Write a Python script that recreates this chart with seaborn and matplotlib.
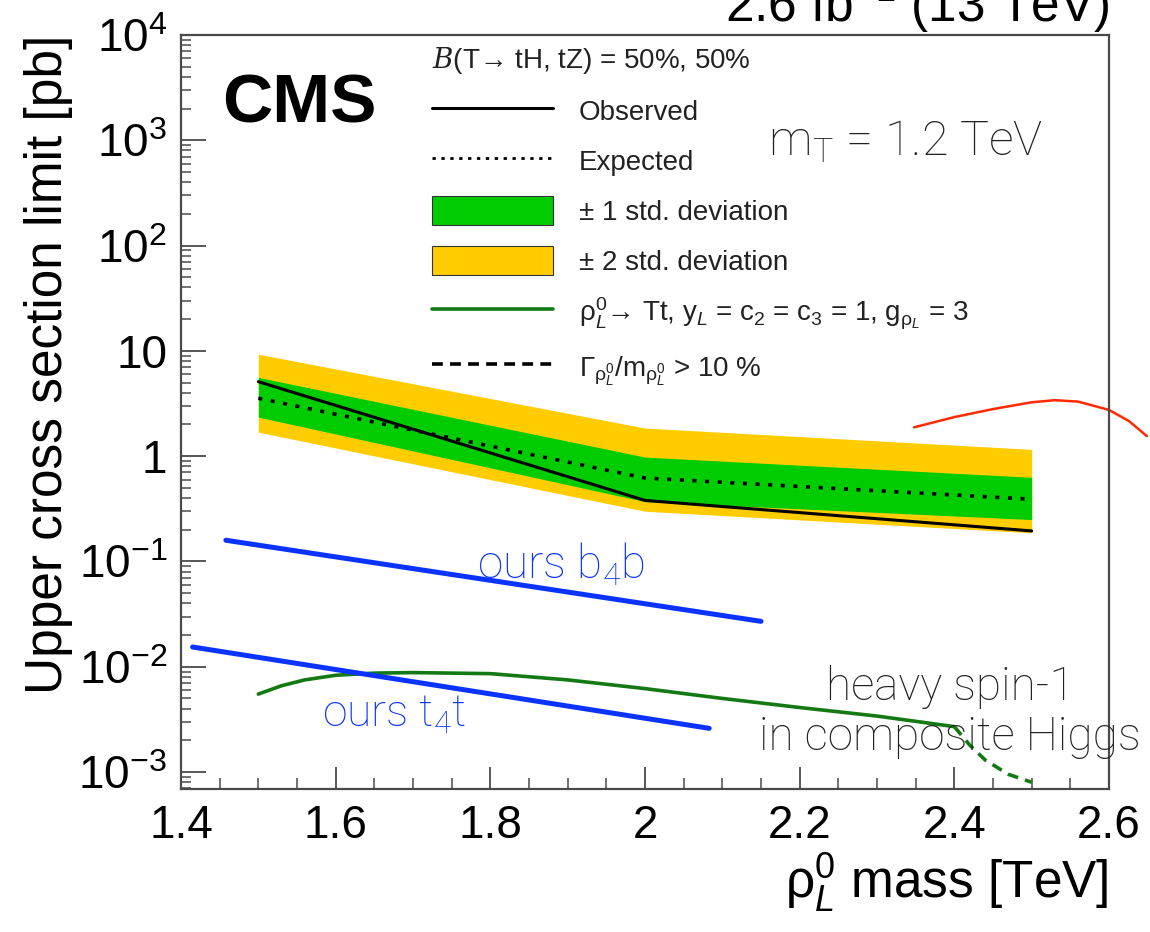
import matplotlib
matplotlib.use("Agg")
import matplotlib.pyplot as plt
import seaborn as sns
import pandas as pd
from matplotlib.patches import Patch
from matplotlib.lines import Line2D
from matplotlib.ticker import MultipleLocator, LogLocator, NullFormatter

# ---- limit results (pb) vs rho mass (TeV) ----
mass = [1.5, 2.0, 2.5]
observed = [5.1, 0.38, 0.195]
expected = [3.55, 0.62, 0.39]
band1_lo = [2.35, 0.37, 0.25]
band1_hi = [5.6, 0.98, 0.63]
band2_lo = [1.69, 0.30, 0.187]
band2_hi = [9.3, 1.85, 1.16]

# ---- heavy spin-1 model prediction ----
theory_mass = [1.50, 1.53, 1.56, 1.60, 1.65, 1.70, 1.80, 1.90, 2.00, 2.10, 2.20, 2.30, 2.40]
theory_xsec = [0.0055, 0.0066, 0.0075, 0.0083, 0.0087, 0.0088, 0.0086, 0.0075, 0.0062,
               0.0050, 0.0041, 0.0034, 0.0027]
wide_mass = [2.40, 2.42, 2.44, 2.47, 2.50]
wide_xsec = [0.0027, 0.0018, 0.0013, 0.00095, 0.00080]

# ---- our projected reach ----
b4b_mass = [1.458, 2.15]
b4b_xsec = [0.159, 0.027]
t4t_mass = [1.415, 2.083]
t4t_xsec = [0.0154, 0.0026]

# ---- marker arc ----
arc_mass = [2.348, 2.40, 2.45, 2.50, 2.53, 2.56, 2.60, 2.626, 2.649]
arc_xsec = [1.88, 2.35, 2.80, 3.25, 3.40, 3.30, 2.75, 2.15, 1.55]

# ---- axis ticks ----
xtick_vals = [1.4, 1.6, 1.8, 2.0, 2.2, 2.4, 2.6]
xtick_labels = ["1.4", "1.6", "1.8", "2", "2.2", "2.4", "2.6"]
ytick_vals = [1e-3, 1e-2, 1e-1, 1, 10, 1e2, 1e3, 1e4]
ytick_labels = ["10$^{-3}$", "10$^{-2}$", "10$^{-1}$", "1", "10", "10$^{2}$", "10$^{3}$", "10$^{4}$"]

sns.set_theme(style="ticks")
plt.rcParams["font.family"] = ["Liberation Sans", "DejaVu Sans"]
plt.rcParams.update({
    "mathtext.fontset": "custom",
    "mathtext.rm": "Liberation Sans",
    "mathtext.it": "Liberation Sans:italic",
    "mathtext.bf": "Liberation Sans:bold",
    "mathtext.sf": "Liberation Sans",
    "mathtext.cal": "DejaVu Serif:italic",
    "axes.unicode_minus": True,
})

YELLOW = "#ffcc00"
GREEN = "#00cc00"
DKGREEN = "#137a13"
BLUE = "#0a33ff"
GREY = "#222222"
FRAME = "#4a4a4a"

fig = plt.figure(figsize=(11.5, 9.32), dpi=100)
ax = fig.add_axes([0.15739, 0.15343, 0.80696, 0.80901])
ax.set_yscale("log")

# expected bands
ax.fill_between(mass, band2_lo, band2_hi, color=YELLOW, lw=0)
ax.fill_between(mass, band1_lo, band1_hi, color=GREEN, lw=0)

df = pd.DataFrame({"mass": mass, "observed": observed, "expected": expected})
sns.lineplot(data=df, x="mass", y="expected", ax=ax, color="black", lw=2.6,
             linestyle=(0, (1.1, 2.4)), legend=False)
sns.lineplot(data=df, x="mass", y="observed", ax=ax, color="black", lw=2.2, legend=False)

sns.lineplot(x=theory_mass, y=theory_xsec, ax=ax, color=DKGREEN, lw=2.6, legend=False)
sns.lineplot(x=wide_mass, y=wide_xsec, ax=ax, color=DKGREEN, lw=2.6,
             linestyle=(0, (3, 2)), legend=False)

sns.lineplot(x=b4b_mass, y=b4b_xsec, ax=ax, color=BLUE, lw=3.6, legend=False)
sns.lineplot(x=t4t_mass, y=t4t_xsec, ax=ax, color=BLUE, lw=3.6, legend=False)

sns.lineplot(x=arc_mass, y=arc_xsec, ax=ax, color="#ff2a00", lw=1.8,
             legend=False, clip_on=False)

ax.set_xlim(1.4, 2.6)
ax.set_ylim(6.9e-4, 1e4)

# ticks: inward, left and bottom only
ax.set_xticks(xtick_vals, xtick_labels)
ax.xaxis.set_minor_locator(MultipleLocator(0.05))
ax.set_yticks(ytick_vals, ytick_labels)
ax.yaxis.set_minor_locator(LogLocator(base=10, subs=range(2, 10), numticks=20))
ax.yaxis.set_minor_formatter(NullFormatter())
ax.tick_params(axis="both", which="both", direction="in", color=FRAME,
               top=False, right=False, labelsize=33, labelcolor="black")
ax.tick_params(axis="x", which="major", length=16, width=1.3, pad=11)
ax.tick_params(axis="x", which="minor", length=8, width=1.1)
ax.tick_params(axis="y", which="major", length=18, width=1.3, pad=10)
ax.tick_params(axis="y", which="minor", length=7.5, width=1.1)
for sp in ax.spines.values():
    sp.set_visible(True)
    sp.set_color(FRAME)
    sp.set_linewidth(1.6)

# axis titles
ax.set_xlabel(r"$\mathrm{\rho}^{0}_{L}$ mass [TeV]", fontsize=37, color="black")
ax.xaxis.set_label_coords(1.0, -0.1446)
ax.xaxis.label.set(ha="right", va="baseline")
ax.set_ylabel("Upper cross section limit [pb]", fontsize=37, color="black")
ax.yaxis.set_label_coords(-0.1433, 1.0)
ax.yaxis.label.set(ha="center", va="top", rotation_mode="default")

fig.text(0.9643, 0.9764, "2.6 fb$^{-1}$ (13 TeV)", ha="right", va="baseline",
         fontsize=37, color="black")

ax.text(0.0442, 0.8846, "CMS", transform=ax.transAxes, fontsize=50,
        fontweight="bold", ha="left", va="baseline", color="black")

# legend
handles = [
    Line2D([], [], color="black", lw=2.2),
    Line2D([], [], color="black", lw=2.0, linestyle=(0, (1.2, 2.0))),
    Patch(facecolor=GREEN, edgecolor="#333333", lw=0.8),
    Patch(facecolor=YELLOW, edgecolor="#333333", lw=0.8),
    Line2D([], [], color=DKGREEN, lw=2.6),
    Line2D([], [], color="black", lw=2.6, linestyle=(0, (3, 2))),
]
labels = [
    "Observed",
    "Expected",
    "\u00b1 1 std. deviation",
    "\u00b1 2 std. deviation",
    r"$\mathrm{\rho}^{0}_{L}$" + "\u2192 Tt, y$_{L}$ = c$_{2}$ = c$_{3}$ = 1, g$_{\\mathrm{\\rho}_{L}}$ = 3",
    r"$\Gamma_{\mathrm{\rho}^{0}_{L}}$/m$_{\mathrm{\rho}^{0}_{L}}$ > 10 %",
]
leg = ax.legend(handles, labels,
                title=r"$\mathcal{B}$(T" + "\u2192 tH, tZ) = 50%, 50%",
                loc="upper left", bbox_to_anchor=(0.2705, 0.9874), frameon=False,
                fontsize=20, title_fontsize=20, handlelength=4.35, handleheight=1.26,
                handletextpad=0.93, labelspacing=0.72, borderpad=0, borderaxespad=0,
                alignment="left")
for t in leg.get_texts():
    t.set_color("#222222")
leg.get_title().set_color("#222222")

# annotations
light = dict(family=["Roboto", "DejaVu Sans"], fontweight="light")
ax.text(0.6325, 0.8408, r"m$_\mathregular{T}$ = 1.2 TeV", transform=ax.transAxes,
        fontsize=35, color=GREY, ha="left", va="baseline", **light)
ax.text(0.319, 0.2798, r"ours b$_\mathregular{4}$b", transform=ax.transAxes,
        fontsize=33, color=BLUE, ha="left", va="baseline", **light)
ax.text(0.152, 0.0822, r"ours t$_\mathregular{4}$t", transform=ax.transAxes,
        fontsize=32, color=BLUE, ha="left", va="baseline", **light)
ax.text(0.8287, 0.118, "heavy spin-1", transform=ax.transAxes,
        fontsize=33, color=GREY, ha="center", va="baseline", **light)
ax.text(0.8287, 0.0517, "in composite Higgs", transform=ax.transAxes,
        fontsize=33, color=GREY, ha="center", va="baseline", **light)

fig.savefig("out.png", dpi=100)
